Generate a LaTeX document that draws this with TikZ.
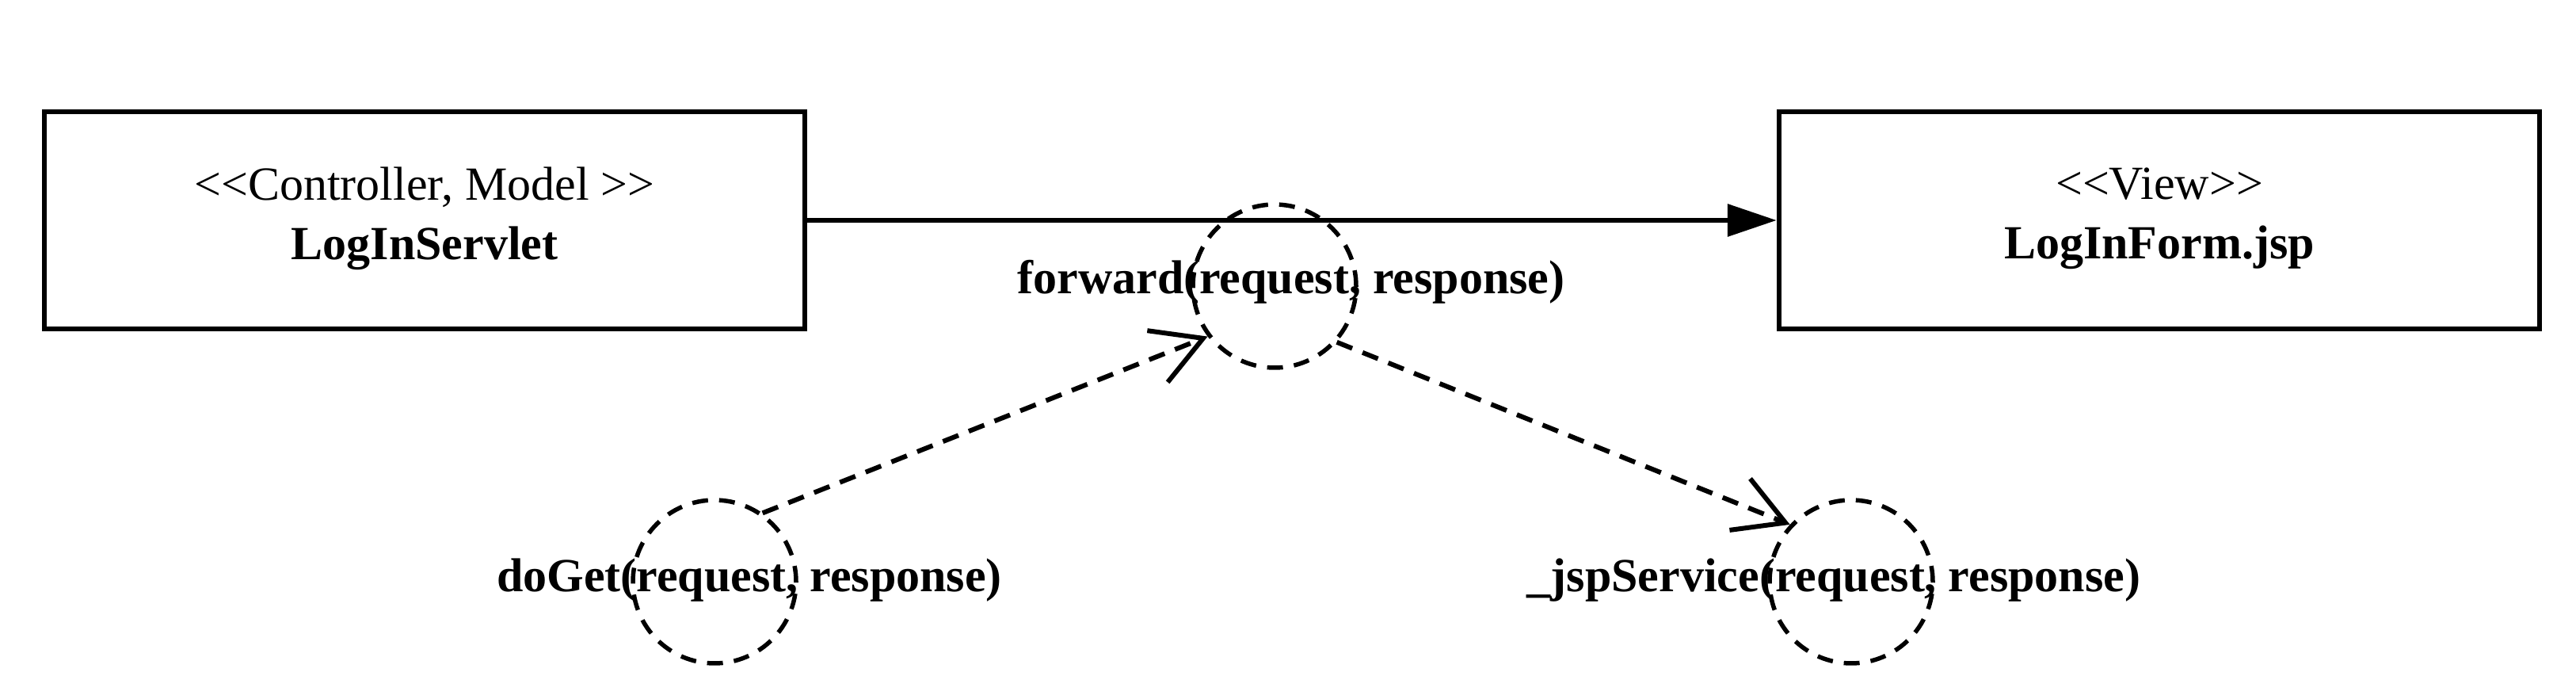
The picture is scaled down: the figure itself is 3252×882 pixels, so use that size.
\documentclass[tikz,border=0pt]{standalone}
\usepackage{fontspec}
\setmainfont{Liberation Serif}[Ligatures=ResetAll]
\usetikzlibrary{arrows.meta}
\newcommand\dblopen{<\kern0pt<}
\newcommand\dblclose{>\kern0pt>}
\begin{document}
\begin{tikzpicture}[x=1pt,y=1pt,
  classbox/.style={draw,line width=6.5pt,minimum width=960pt,minimum height=274pt,inner sep=0pt},
  boxtext/.style={align=center,font=\fontsize{60}{75}\selectfont},
  callcircle/.style={draw,circle,dash pattern=on 20pt off 14pt,line width=5.5pt,minimum size=206pt,inner sep=0pt},
  calllabel/.style={font=\fontsize{60}{72}\selectfont\bfseries,inner sep=0pt},
  assoc/.style={line width=6.5pt,-{Triangle[length=62pt,width=40pt]}},
  callflow/.style={line width=6pt,dash pattern=on 21pt off 14pt,-{Straight Barb[length=62pt,width=70pt,line width=6pt]}}]
\useasboundingbox (0,0) rectangle (3252,882);
\node[classbox] (ctrl) at (536,604) {};
\node[classbox] (view) at (2726,604) {};
\node[boxtext] (ctrltext) at (536,606) {\dblopen Controller, Model \dblclose\\\textbf{LogInServlet}};
\node[boxtext] (viewtext) at (2726,606) {\dblopen View\dblclose\\\textbf{LogInForm.jsp}};
\draw[assoc] (ctrl.east) -- (view.west);
\node[callcircle] (fwd) at (1609,521) {};
\node[callcircle] (doget) at (902,148) {};
\node[callcircle] (jsp) at (2337,148) {};
\node[calllabel] (fwdl) at (1630,526) {forward(request, response)};
\node[calllabel] (dogetl) at (946,150) {doGet(request, response)};
\node[calllabel] (jspl) at (2315,150) {\_jspService(request, response)};
\draw[callflow] (doget.55) -- (fwd.217);
\draw[callflow] (fwd.318) -- (jsp.137);
\end{tikzpicture}
\end{document}
